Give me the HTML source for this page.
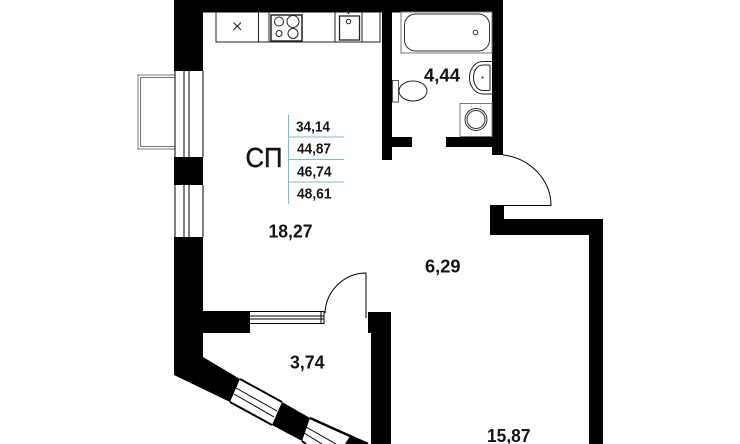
<!DOCTYPE html>
<html><head><meta charset="utf-8"><style>
html,body{margin:0;padding:0;background:#fff;width:740px;height:444px;overflow:hidden}
svg{display:block}
text{font-family:"Liberation Sans",sans-serif;fill:#151515}
.b{font-weight:700;font-size:18px}
.s{font-weight:700;font-size:14.500px}
</style></head><body>
<svg width="740" height="444" viewBox="0 0 740 444" xmlns="http://www.w3.org/2000/svg">
<!-- balcony -->
<g fill="none" stroke="#777" stroke-width="1">
<path d="M175 75H138V149H175"/><path d="M175 77.500H140.500V146.500H175"/>
</g>
<!-- walls -->
<g fill="#000">
<rect x="174" y="0" width="329" height="12.500"/>
<rect x="174" y="0" width="29" height="71"/>
<rect x="174" y="157" width="29" height="28"/>
<path d="M174 237H203V357L240 379L230 402L174 375Z"/>
<rect x="203" y="311" width="47" height="22"/>
<path d="M282 402L310 418L302 441L272 425Z"/>
<path d="M350 436L365 444H345Z"/>
<rect x="382" y="0" width="10" height="160"/>
<rect x="392" y="137" width="20" height="10"/>
<rect x="446" y="137" width="46" height="10"/>
<rect x="492" y="0" width="11" height="155"/>
<rect x="490" y="205" width="14" height="30"/>
<rect x="490" y="219" width="113" height="16"/>
<rect x="589" y="219" width="14" height="225"/>
<path d="M368 312H391V444H371V333H368Z"/>
</g>
<!-- left window -->
<g fill="none" stroke="#000" stroke-width="1">
<path d="M175 71V157M184 71V157M189 71V157M203 71V157"/>
<path d="M175 185V237M184 185V237M189 185V237M203 185V237"/>
</g>
<!-- diagonal windows -->
<g fill="none" stroke="#000">
<path d="M240 379L282 402" stroke-width="2"/>
<path d="M230 402L272 425" stroke-width="2"/>
<path d="M236 388L277 411M234 394L274 417" stroke-width="1"/>
<path d="M310 418L350 436L368 444" stroke-width="2.500"/>
<path d="M302 441L306 444" stroke-width="2"/>
<path d="M306 427L336 444M304 433L322 444" stroke-width="1"/>
</g>
<!-- threshold and doors -->
<g fill="none" stroke="#000">
<path d="M250 311.500H324V323.500H250M250 316H324M250 319H324" stroke-width="1"/>
<path d="M321 312V323" stroke-width="1"/>
<path d="M325 313C326 290 345 273 366 273V318" stroke-width="1"/>
<path d="M503 155C530 158 551 180 551 205.500H504" stroke-width="1"/>
</g>
<!-- kitchen -->
<g fill="none" stroke="#222" stroke-width="1">
<path d="M216 12V42H380V12M258.500 12V42M269 12V42M335 12V42M362 12V42M380 12V42"/>
<path d="M233.500 22.500L241 30M241 22.500L233.500 30"/>
<rect x="271" y="15" width="31" height="26" stroke-width="1.500"/>
<circle cx="279" cy="21.500" r="4.500"/><circle cx="293" cy="21.500" r="6"/>
<circle cx="279" cy="33.500" r="3"/><circle cx="293" cy="33.500" r="5"/>
<rect x="339.500" y="16" width="20" height="24" stroke-width="1.300"/>
<circle cx="348.500" cy="21.500" r="2.300"/>
<path d="M348.500 12V14" stroke-width="1.500"/>
</g>
<!-- bathroom -->
<g fill="none">
<rect x="401" y="12" width="91" height="41" stroke="#777" stroke-width="1"/>
<rect x="404.500" y="14" width="85" height="37" rx="11" stroke="#333" stroke-width="1"/>
<circle cx="475.500" cy="32.500" r="2.300" stroke="#333"/>
<path d="M492 61.500H483C475 61.500 469.500 69 469.500 77.500C469.500 86 475 94 483 94H492" stroke="#222"/>
<path d="M489 65H483C477 65 473.500 71 473.500 77.500C473.500 84 477 90.500 483 90.500H489Q490 90.500 490 89V66Q490 65 489 65Z" stroke="#222"/>
<circle cx="482.500" cy="77.500" r="1" fill="#222"/>
<rect x="392.500" y="80.500" width="6" height="21.500" stroke="#555"/>
<ellipse cx="413" cy="91" rx="14" ry="10" stroke="#222"/>
<rect x="460" y="103.500" width="32" height="33" stroke="#777"/>
<circle cx="476" cy="119.500" r="11" stroke="#333"/>
<circle cx="476" cy="119.500" r="9" stroke="#333"/>
</g>
<!-- schedule -->
<g stroke="#7fbcc4" stroke-width="1" fill="none">
<path d="M288.500 115V204M288 137H344M288 159.500H344M288 182H344"/>
</g>
<text x="245.500" y="167" font-size="28" textLength="37" lengthAdjust="spacingAndGlyphs" stroke="#151515" stroke-width="0.500">СП</text>
<text class="s" x="296" y="131.500" textLength="34" lengthAdjust="spacingAndGlyphs">34,14</text>
<text class="s" x="297" y="153.500" textLength="34" lengthAdjust="spacingAndGlyphs">44,87</text>
<text class="s" x="297" y="176.500" textLength="34.500" lengthAdjust="spacingAndGlyphs">46,74</text>
<text class="s" x="297" y="198.500" textLength="34.500" lengthAdjust="spacingAndGlyphs">48,61</text>
<!-- areas -->
<text class="b" x="424" y="81.500" textLength="36" lengthAdjust="spacingAndGlyphs">4,44</text>
<text class="b" x="268.500" y="237.500" textLength="44" lengthAdjust="spacingAndGlyphs">18,27</text>
<text class="b" x="425" y="272.500" textLength="35.500" lengthAdjust="spacingAndGlyphs">6,29</text>
<text class="b" x="290" y="368.500" textLength="34.500" lengthAdjust="spacingAndGlyphs">3,74</text>
<text class="b" x="487" y="442" textLength="43.500" lengthAdjust="spacingAndGlyphs">15,87</text>
</svg>
</body></html>
